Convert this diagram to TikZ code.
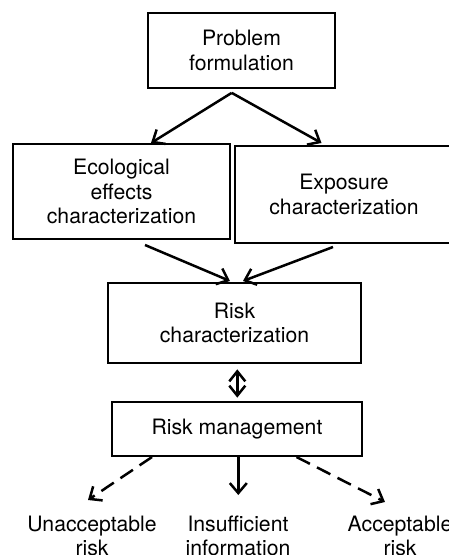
\documentclass[tikz,border=0pt]{standalone}
\usepackage{fontspec}
\setmainfont{TeX Gyre Heros}
\usetikzlibrary{arrows.meta,calc}
\begin{document}
\begin{tikzpicture}[x=1pt,y=-1pt,
  box/.style={draw, line width=2.7pt, align=center, inner sep=0pt},
  lbl/.style={align=center, inner sep=0pt},
  arr/.style={line width=2.5pt, -{Straight Barb[length=10pt,width=17pt,line width=2.5pt]}},
  darr/.style={arr, dash pattern=on 15pt off 8pt},
  every node/.style={font=\fontsize{21.2pt}{24.5pt}\selectfont}]
\useasboundingbox (0,0) rectangle (449,555);
\clip (0,0) rectangle (449,555);
\node[box, minimum width=187pt, minimum height=75pt] (pf) at (241.5,50.5) {Problem\\formulation};
\node[box, minimum width=217pt, minimum height=95pt] (eco) at (121.5,191.5) {Ecological\\effects\\characterization};
\node[box, minimum width=218pt, minimum height=97pt] (exp) at (344,194.5) {Exposure\\characterization};
\node[box, minimum width=253pt, minimum height=80pt] (rc) at (234.5,323) {Risk\\characterization};
\node[box, minimum width=250pt, minimum height=54pt] (rm) at (237,429) {Risk management};
\node[lbl] (ua) at (92,536) {Unacceptable\\risk};
\node[lbl] (ins) at (238,536) {Insufficient\\information};
\node[lbl] (acc) at (400,536) {Acceptable\\risk};
% connector end points
\coordinate (apex) at ($(pf.south)+(-9.8,3.5)$);
\coordinate (ecotip) at (151,143);
\coordinate (exptip) at (321.5,143);
\coordinate (ecoout) at (145,245);
\coordinate (expout) at (333,247);
\coordinate (rcin1) at (230,281);
\coordinate (rcin2) at (243,281);
\coordinate (ua1) at (152,457);
\coordinate (ua2) at (88,500);
\coordinate (in1) at (238.3,457);
\coordinate (in2) at (238.3,495);
\coordinate (ac1) at (296.5,457);
\coordinate (ac2) at (385,502);
\draw[arr] (apex) -- (ecotip);
\draw[arr] (apex) -- (exptip);
\draw[arr] (ecoout) -- (rcin1);
\draw[arr] (expout) -- (rcin2);
\draw[line width=2.5pt, {Straight Barb[length=10pt,width=16pt,line width=2.5pt]}-{Straight Barb[length=10pt,width=16pt,line width=2.5pt]}] ($(rc.south)+(2.8,5)$) -- ($(rm.north)+(0.3,-3)$);
\draw[darr] (ua1) -- (ua2);
\draw[arr] (in1) -- (in2);
\draw[darr] (ac1) -- (ac2);
\end{tikzpicture}
\end{document}
